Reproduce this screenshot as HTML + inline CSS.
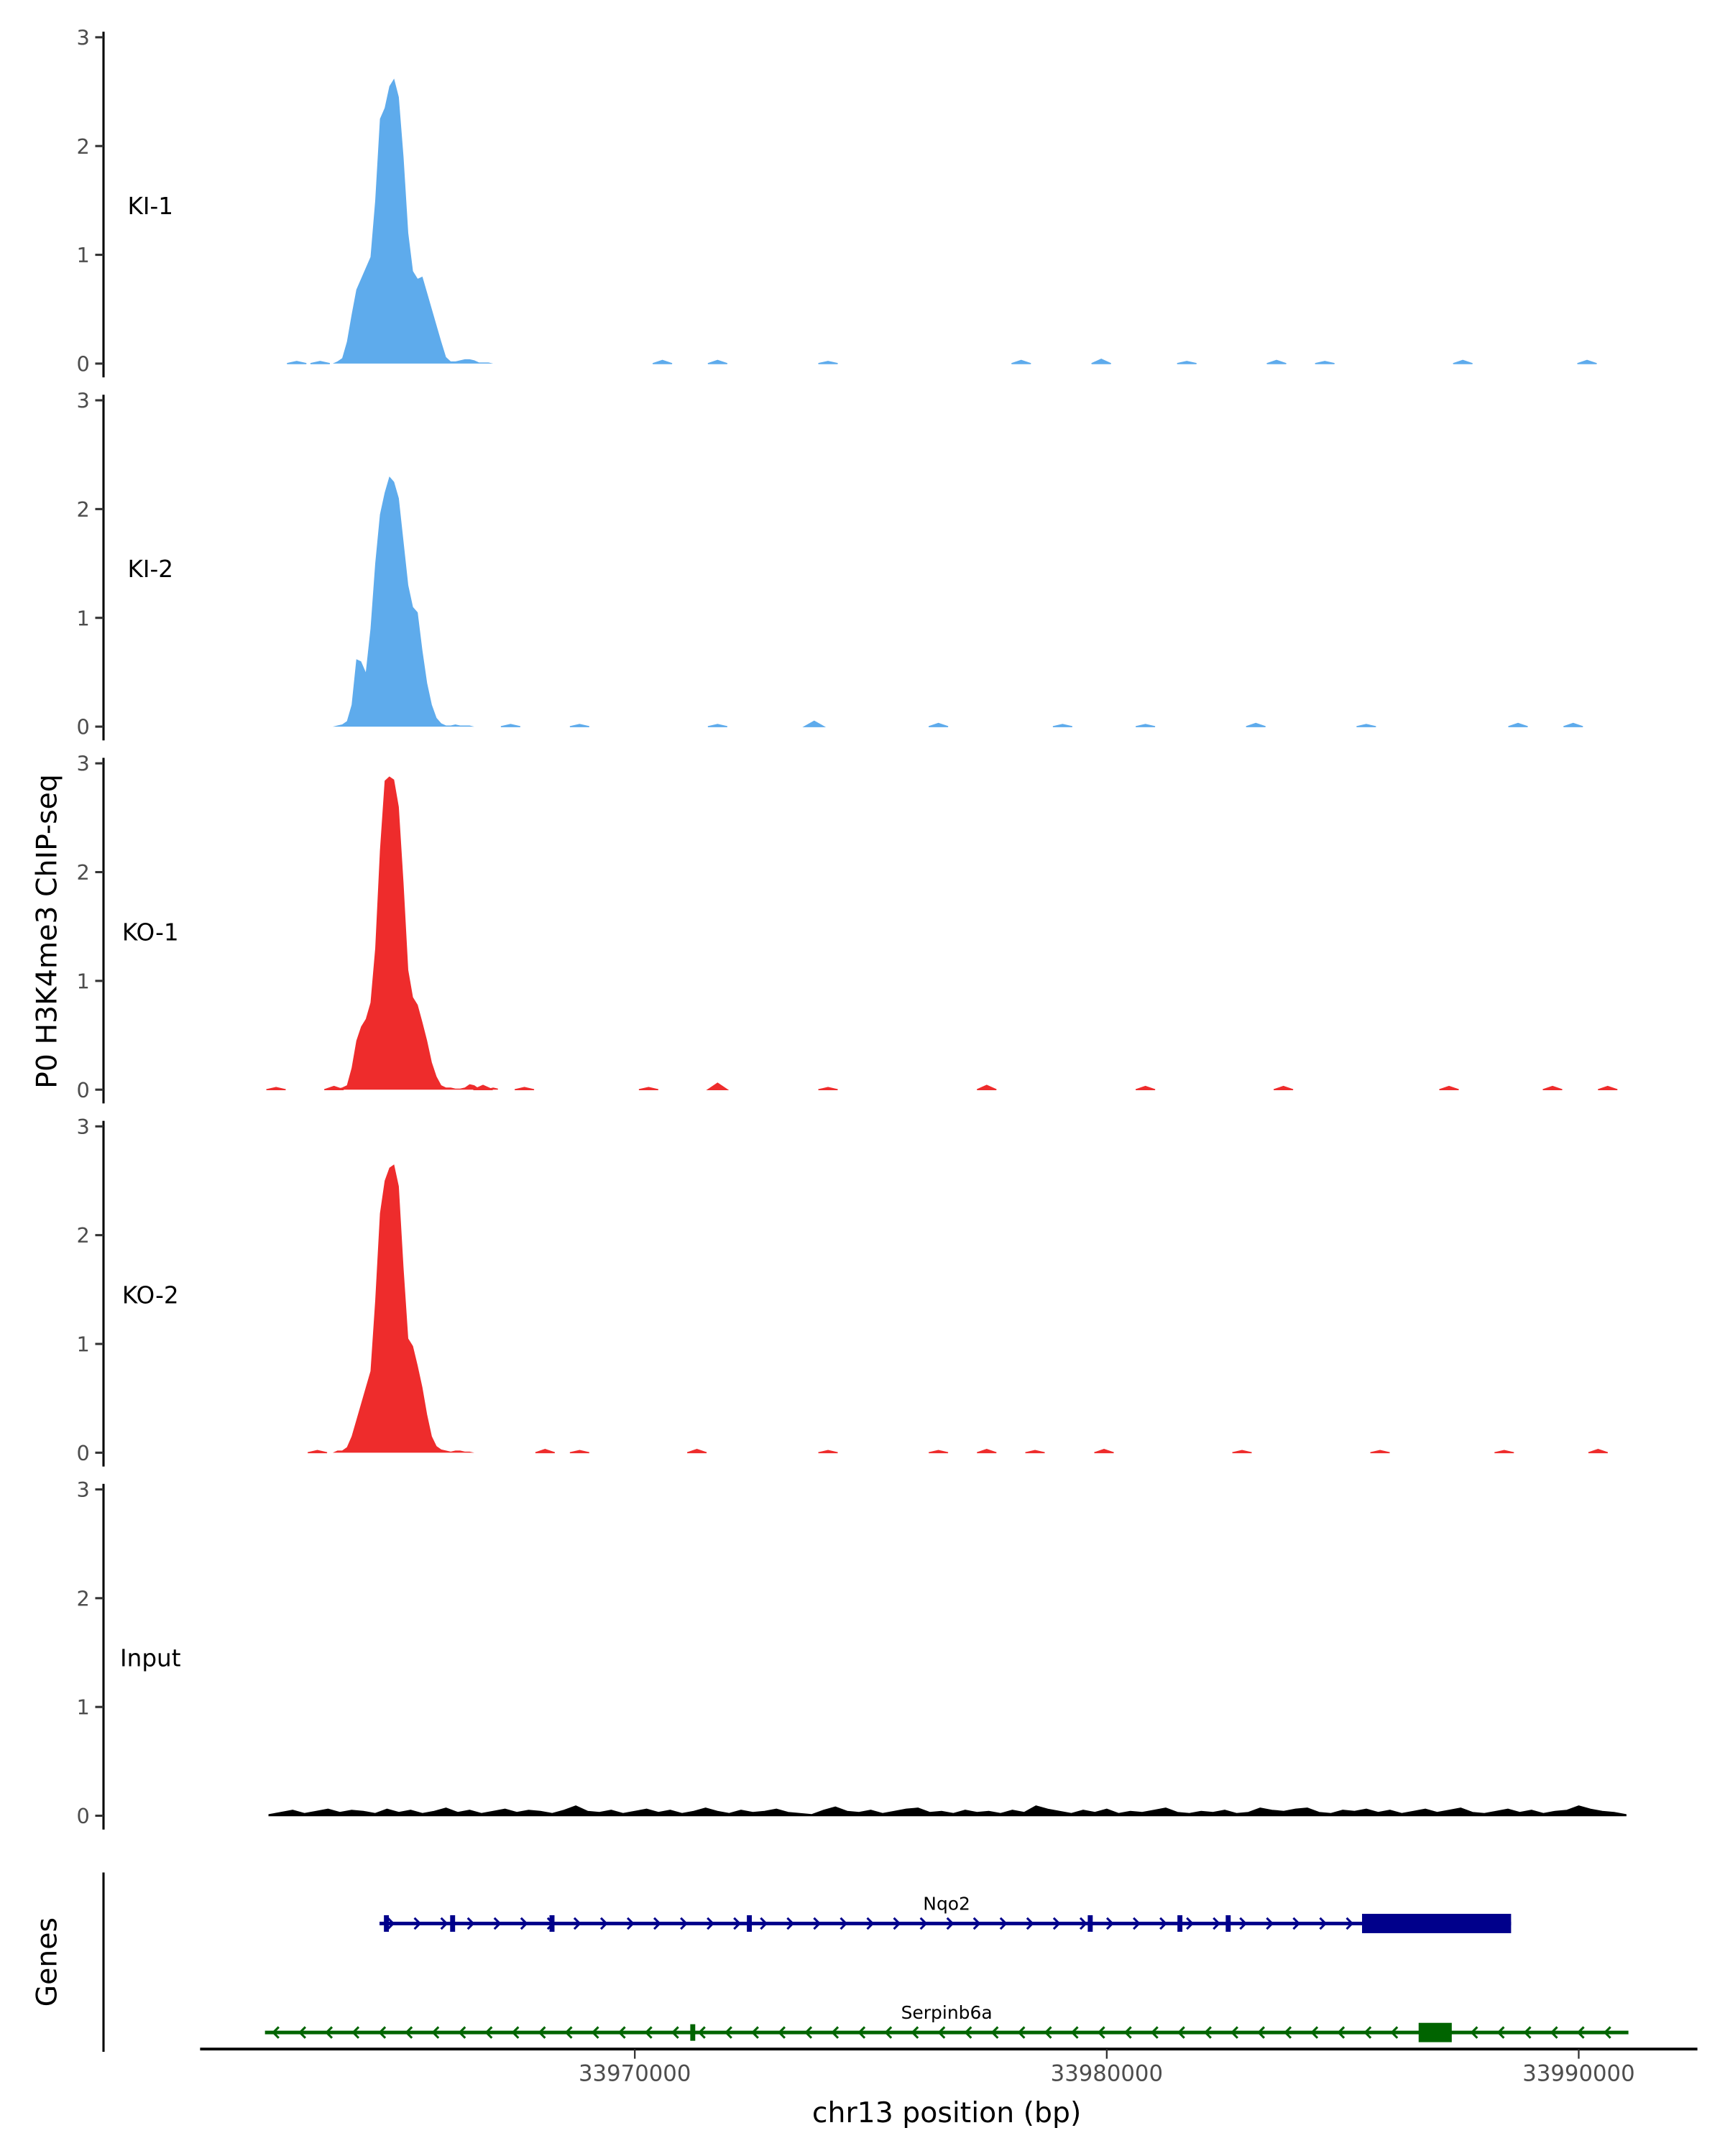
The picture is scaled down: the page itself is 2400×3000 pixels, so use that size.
<!DOCTYPE html>
<html><head><meta charset="utf-8"><style>
html,body{margin:0;padding:0;background:#fff}
svg{display:block;font-family:"DejaVu Sans","Liberation Sans",sans-serif}
</style></head><body>
<svg id="chart" width="2400" height="3000" viewBox="0 0 1250 1562.5" xmlns="http://www.w3.org/2000/svg">
<text transform="translate(41,675) rotate(-90)" text-anchor="middle" font-size="20.5" fill="#000">P0 H3K4me3 ChIP-seq</text>
<text transform="translate(41,1422) rotate(-90)" text-anchor="middle" font-size="20.5" fill="#000">Genes</text>
<text x="686" y="1538" text-anchor="middle" font-size="20.5" fill="#000">chr13 position (bp)</text>
</svg>
<script>
const trackNames = ["KI-1","KI-2","KO-1","KO-2","Input"];
const trackColors = ["#5eabec","#5eabec","#ee2c2c","#ee2c2c","#000000"];
const yTicks = [0,1,2,3];
const xTicks = [33970000,33980000,33990000];
const xTickLabels = ["33970000","33980000","33990000"];
const peakStart = 33963600, peakStep = 100;
const ki1Peak = [0,0.02,0.05,0.2,0.45,0.68,0.78,0.88,0.98,1.5,2.25,2.35,2.55,2.62,2.45,1.9,1.2,0.85,0.78,0.8,0.65,0.5,0.35,0.2,0.06,0.02,0.02,0.03,0.04,0.04,0.03,0.01,0.01,0.01,0,0];
const ki2Peak = [0,0.01,0.02,0.05,0.2,0.62,0.6,0.5,0.9,1.5,1.95,2.15,2.3,2.25,2.1,1.7,1.3,1.1,1.05,0.7,0.4,0.2,0.08,0.03,0.01,0.01,0.02,0.01,0.01,0.01,0,0,0,0,0,0];
const ko1Peak = [0.02,0.01,0.02,0.04,0.2,0.45,0.58,0.65,0.8,1.3,2.2,2.84,2.88,2.85,2.6,1.9,1.1,0.85,0.78,0.62,0.45,0.25,0.12,0.04,0.02,0.02,0.01,0.01,0.02,0.05,0.04,0.01,0.01,0.01,0.02,0.01];
const ko2Peak = [0,0.02,0.02,0.05,0.15,0.3,0.45,0.6,0.75,1.4,2.2,2.5,2.62,2.65,2.45,1.7,1.05,0.98,0.8,0.6,0.35,0.15,0.06,0.03,0.02,0.01,0.02,0.02,0.01,0.01,0,0,0,0,0,0];
const ki1BumpPos = [33962836,33963333,33970585,33971754,33974094,33978187,33979883,33981696,33983597,33984620,33987544,33990176];
const ki1BumpVal = [0.02,0.02,0.03,0.03,0.02,0.03,0.04,0.02,0.03,0.02,0.03,0.03];
const ki2BumpPos = [33967368,33968830,33971754,33973801,33976433,33979064,33980819,33983158,33985498,33988714,33989883];
const ki2BumpVal = [0.02,0.02,0.02,0.05,0.03,0.02,0.02,0.03,0.02,0.03,0.03];
const ko1BumpPos = [33962398,33963626,33966784,33967661,33970292,33971754,33974094,33977456,33980819,33983743,33987252,33989445,33990614];
const ko1BumpVal = [0.02,0.03,0.04,0.02,0.02,0.06,0.02,0.04,0.03,0.03,0.03,0.03,0.03];
const ko2BumpPos = [33963275,33968099,33968830,33971316,33974094,33976433,33977456,33978480,33979942,33982866,33985790,33988421,33990410];
const ko2BumpVal = [0.02,0.03,0.02,0.03,0.02,0.02,0.03,0.02,0.03,0.02,0.02,0.02,0.03];
const inputStart = 33962250, inputStep = 250;
const inputVals = [0.01,0.03,0.05,0.02,0.04,0.06,0.03,0.05,0.04,0.02,0.06,0.03,0.05,0.02,0.04,0.07,0.03,0.05,0.02,0.04,0.06,0.03,0.05,0.04,0.02,0.05,0.09,0.04,0.03,0.05,0.02,0.04,0.06,0.03,0.05,0.02,0.04,0.07,0.04,0.02,0.05,0.03,0.04,0.06,0.03,0.02,0.01,0.05,0.08,0.04,0.03,0.05,0.02,0.04,0.06,0.07,0.03,0.04,0.02,0.05,0.03,0.04,0.02,0.05,0.03,0.09,0.06,0.04,0.02,0.05,0.03,0.06,0.02,0.04,0.03,0.05,0.07,0.03,0.02,0.04,0.03,0.05,0.02,0.03,0.07,0.05,0.04,0.06,0.07,0.03,0.02,0.05,0.04,0.06,0.03,0.05,0.02,0.04,0.06,0.03,0.05,0.07,0.03,0.02,0.04,0.06,0.03,0.05,0.02,0.04,0.05,0.09,0.06,0.04,0.03,0.01];
const peaks = [ki1Peak,ki2Peak,ko1Peak,ko2Peak,null];
const bumpPos = [ki1BumpPos,ki2BumpPos,ko1BumpPos,ko2BumpPos,null];
const bumpVal = [ki1BumpVal,ki2BumpVal,ko1BumpVal,ko2BumpVal,null];
const nqo2Range = [33964591,33988567];
const nqo2Thick = [33985409,33988567];
const nqo2Exons = [33964737,33966140,33968246,33972427,33979650,33981550,33982573];
const serpRange = [33962164,33991053];
const serpExons = [33971228];
const serpThick = [33986608,33987310];

const NS="http://www.w3.org/2000/svg";
const svg=document.getElementById('chart');
function mk(tag,attrs){const e=document.createElementNS(NS,tag);for(const k in attrs)e.setAttribute(k,attrs[k]);svg.appendChild(e);return e;}
const xScale=bp=>460+(bp-33970000)*0.0342;
const panelTop=i=>27+263.1*i;
const yScale=(i,v)=>panelTop(i)+236.5-v*78.83;

for(let i=0;i<trackNames.length;i++){
  const ax=mk('line',{x1:75,x2:75,y1:panelTop(i)-4,y2:yScale(i,0)+10,stroke:'#000','stroke-width':1.6});
  
  
  yTicks.forEach(t=>{
    const tk=mk('line',{x1:69,x2:75,y1:yScale(i,t),y2:yScale(i,t),stroke:'#333','stroke-width':1.6});
    
    
    const tl=mk('text',{x:65,y:yScale(i,t)+5.5,'text-anchor':'end','font-size':15,fill:'#4d4d4d'});
    tl.textContent=t;
    
    
  });
  const lab=mk('text',{x:109,y:yScale(i,1.45)+6,'text-anchor':'middle','font-size':17,fill:'#000'});
  lab.textContent=trackNames[i];
  
  
  const c=trackColors[i];
  const y0=yScale(i,0);
  if(peaks[i]){
    let d='M'+xScale(peakStart)+','+y0;
    peaks[i].forEach((v,j)=>{d+=' L'+xScale(peakStart+j*peakStep).toFixed(2)+','+yScale(i,v).toFixed(2);});
    d+=' L'+xScale(peakStart+(peaks[i].length-1)*peakStep)+','+y0+'Z';
    const p=mk('path',{d:d,fill:c});
    
    
    bumpPos[i].forEach((b,j)=>{
      const x=xScale(b);
      const bp=mk('path',{d:`M${x-7},${y0} L${x},${yScale(i,bumpVal[i][j])} L${x+7},${y0}Z`,fill:c,stroke:c,'stroke-width':0.8});
      
      
    });
  } else {
    let d='M'+xScale(inputStart)+','+y0;
    inputVals.forEach((v,j)=>{d+=' L'+xScale(inputStart+j*inputStep).toFixed(2)+','+yScale(i,v).toFixed(2);});
    d+=' L'+xScale(inputStart+(inputVals.length-1)*inputStep)+','+y0+'Z';
    const p=mk('path',{d:d,fill:c,stroke:c,'stroke-width':0.8});
    
    
  }
}

const ga=mk('line',{x1:75,x2:75,y1:1357,y2:1487,stroke:'#000','stroke-width':1.6});


const xa=mk('line',{x1:145,x2:1230,y1:1485,y2:1485,stroke:'#000','stroke-width':2});


xTicks.forEach((t,j)=>{
  const tk=mk('line',{x1:xScale(t),x2:xScale(t),y1:1485,y2:1492,stroke:'#333','stroke-width':1.2});
  
  
  const tl=mk('text',{x:xScale(t),y:1508,'text-anchor':'middle','font-size':16,fill:'#4d4d4d'});
  tl.textContent=xTickLabels[j];
  
  
});
function gene(name,range,thick,exons,y,color,dir){
  const l=mk('line',{x1:xScale(range[0]),x2:xScale(range[1]),y1:y,y2:y,stroke:color,'stroke-width':2.6});
  
  
  for(let x=xScale(range[0])+8;x<xScale(range[1])-4;x+=19.3){
    const a=mk('path',{d:dir>0?`M${x-2},${y-4} L${x+2},${y} L${x-2},${y+4}`:`M${x+2},${y-4} L${x-2},${y} L${x+2},${y+4}`,fill:'none',stroke:color,'stroke-width':1.6});
    
    
  }
  exons.forEach(e=>{
    const r=mk('rect',{x:xScale(e)-1.8,y:y-6,width:3.6,height:12,fill:color});
    
    
  });
  const t=mk('rect',{x:xScale(thick[0]),y:y-7,width:xScale(thick[1])-xScale(thick[0]),height:14,fill:color});
  
  
  const lb=mk('text',{x:686,y:y-10,'text-anchor':'middle','font-size':13,fill:'#000'});
  lb.textContent=name;
  
  
}
gene('Nqo2',nqo2Range,nqo2Thick,nqo2Exons,1394,'#00008b',1);
gene('Serpinb6a',serpRange,serpThick,serpExons,1473,'#006400',-1);
</script>
</body></html>
